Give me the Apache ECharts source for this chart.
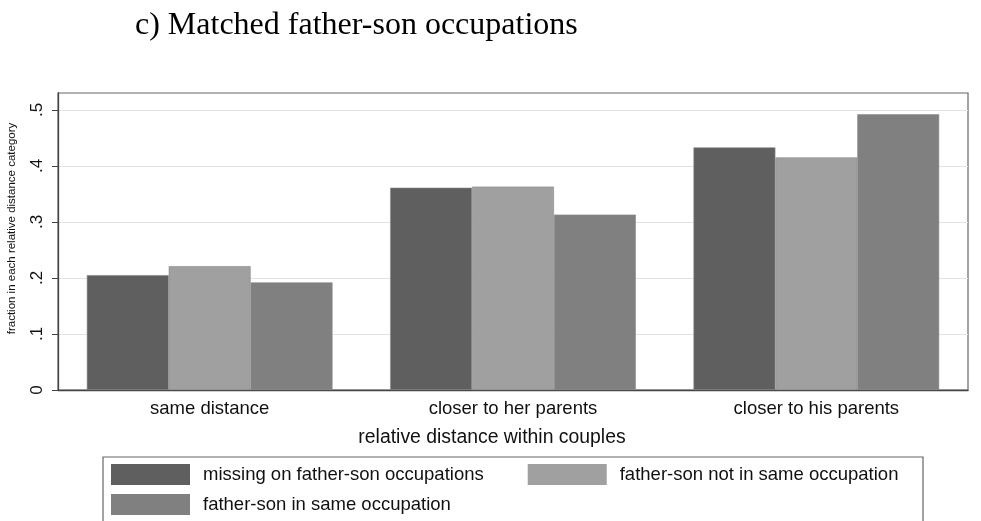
<!DOCTYPE html>
<html>
<head>
<meta charset="utf-8">
<script src="https://cdn.jsdelivr.net/npm/echarts@6/dist/echarts.min.js"></script>
<style>
  html, body { margin: 0; padding: 0; background: #fff; }
  #chart { width: 981px; height: 521px; }
</style>
</head>
<body>
<div id="chart"></div>
<script>
var categories = ['same distance', 'closer to her parents', 'closer to his parents'];
var seriesNames = ['missing on father-son occupations', 'father-son not in same occupation', 'father-son in same occupation'];
var missingVals = [0.205, 0.361, 0.433];
var notSameVals = [0.221, 0.363, 0.415];
var sameVals = [0.192, 0.313, 0.492];
var yTicks = [0, 0.1, 0.2, 0.3, 0.4, 0.5];
var yTickLabels = ['0', '.1', '.2', '.3', '.4', '.5'];
var colors = ['#5f5f5f', '#a0a0a0', '#808080'];

var sans = 'Liberation Sans, Arial, sans-serif';

var makeSeries = function (name, vals, i) {
    return {
        name: name,
        type: 'bar',
        data: vals,
        barGap: '0%',
        barCategoryGap: '19%',
        itemStyle: { color: colors[i], borderColor: '#8a8a8a', borderWidth: 0.6 },
        emphasis: { disabled: true }
    };
};

var legendBase = function (names, top, gap) {
    return {
        data: names,
        left: 111, top: top,
        orient: 'horizontal',
        icon: 'rect',
        itemWidth: 79, itemHeight: 21,
        itemGap: gap,
        padding: 0,
        selectedMode: false,
        itemStyle: { borderWidth: 0 },
        textStyle: { fontFamily: sans, fontSize: 18.5, color: '#111', padding: [0, 0, 0, 8] }
    };
};

var option = {
    animation: false,
    title: {
        text: 'c) Matched father-son occupations',
        left: 130,
        top: 5,
        textStyle: { fontFamily: 'Liberation Serif, Times New Roman, serif', fontSize: 32, fontWeight: 'normal', color: '#000' }
    },
    grid: {
        left: 58, right: 13, top: 93, bottom: 131,
        outerBoundsMode: 'none',
        show: true, borderColor: '#666', borderWidth: 1.2
    },
    legend: [
        legendBase([seriesNames[0], seriesNames[1]], 464, 44),
        legendBase([seriesNames[2]], 494, 10)
    ],
    graphic: [
        {
            type: 'rect',
            shape: { x: 103, y: 457, width: 820, height: 80 },
            style: { fill: 'none', stroke: '#666', lineWidth: 1.2 },
            silent: true
        }
    ],
    xAxis: {
        type: 'category',
        data: categories,
        name: 'relative distance within couples',
        nameLocation: 'middle',
        nameGap: 38,
        nameTextStyle: { fontFamily: sans, fontSize: 19.4, color: '#111', padding: [0, 42, 0, 0] },
        axisLine: { lineStyle: { color: '#444', width: 1.3 } },
        axisTick: { show: false },
        axisLabel: { fontFamily: sans, fontSize: 18.5, color: '#111', margin: 9 }
    },
    yAxis: {
        type: 'value',
        min: 0, max: 0.53, interval: 0.1,
        name: 'fraction in each relative distance category',
        nameLocation: 'middle',
        nameGap: 40,
        nameTextStyle: { fontFamily: sans, fontSize: 11.5, color: '#111', padding: [0, 0, 0, 26] },
        axisLine: { show: true, lineStyle: { color: '#444', width: 1.3 } },
        axisTick: { show: true, length: 6, customValues: yTicks, lineStyle: { color: '#444' } },
        axisLabel: {
            rotate: 90, margin: 12,
            customValues: yTicks,
            fontFamily: sans, fontSize: 17, color: '#111',
            formatter: function (v) {
                var idx = Math.round(v * 10);
                return yTickLabels[idx] !== undefined ? yTickLabels[idx] : '';
            }
        },
        splitLine: { lineStyle: { color: '#e3e3e3', width: 1 } }
    },
    series: [
        makeSeries(seriesNames[0], missingVals, 0),
        makeSeries(seriesNames[1], notSameVals, 1),
        makeSeries(seriesNames[2], sameVals, 2)
    ]
};

var myChart = echarts.init(document.getElementById('chart'));
myChart.setOption(option);
</script>
</body>
</html>
